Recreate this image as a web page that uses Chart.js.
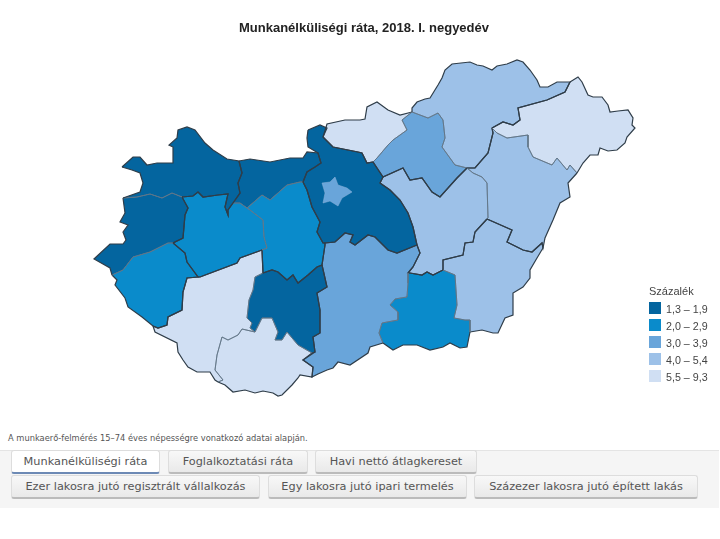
<!DOCTYPE html>
<html lang="hu">
<head>
<meta charset="utf-8">
<title>Munkanélküliségi ráta</title>
<script src="https://cdn.jsdelivr.net/npm/chart.js@4/dist/chart.umd.min.js"></script>
<style>
html, body { margin: 0; padding: 0; width: 720px; height: 539px; overflow: hidden; background: #fff; }
#map { position: absolute; left: 0; top: 0; }
#legend { position: absolute; left: 649px; top: 284px; font: 11px "Liberation Sans", Arial, sans-serif; color: #444; }
#legend .head { height: 18px; line-height: 14px; }
#legend .row { position: relative; height: 17px; line-height: 12px; font-size: 10.7px; }
#legend .box { position: absolute; left: 0; top: 0; width: 12px; height: 12px; }
#legend .txt { position: absolute; left: 17px; top: 1px; white-space: nowrap; }
#note { position: absolute; left: 8px; top: 433px; font: 8.3px "DejaVu Sans", sans-serif; color: #555; white-space: nowrap; }
#panel { position: absolute; left: 0; top: 450px; width: 719px; height: 58px; background: #f5f5f5; border-top: 1px solid #e4e4e4; box-sizing: border-box; }
.tab { position: absolute; box-sizing: border-box; height: 24px; text-align: center; font: 11.3px/22px "DejaVu Sans", sans-serif; color: #555; background: linear-gradient(#f8f8f8, #e9e9e9); border: 1px solid #ddd; border-bottom: 2px solid #bbb; border-radius: 3px; white-space: nowrap; }
.tab.on { background: #fff; border-bottom: 2px solid #6d8ab5; }
</style>
</head>
<body>
<canvas id="map" width="728" height="420"></canvas>
<div id="legend"></div>
<div id="note">A munkaerő-felmérés 15–74 éves népességre vonatkozó adatai alapján.</div>
<div id="panel"></div>
<script>
const chartTitle = 'Munkanélküliségi ráta, 2018. I. negyedév';
const legendTitle = 'Százalék';
const classLabels = ['1,3 – 1,9', '2,0 – 2,9', '3,0 – 3,9', '4,0 – 5,4', '5,5 – 9,3'];
const classColors = ['#04659f', '#0a8bcb', '#69a5da', '#9dc1e8', '#d0dff3'];

// county outlines
const budapest = [[322,183],[330,182],[335,177],[338,185],[347,188],[352,192],[342,198],[338,206],[330,201],[323,203],[325,193]];
const pest = [[308,130],[320,125],[327,128],[323,137],[333,147],[358,152],[362,153],[367,163],[373,162],[383,177],[380,183],[390,190],[400,200],[408,213],[413,227],[417,245],[397,253],[388,250],[375,237],[368,235],[355,245],[350,242],[353,235],[345,233],[335,242],[325,243],[323,243],[317,232],[320,222],[312,207],[307,190],[303,182],[307,172],[315,167],[321,163],[318,153],[308,147],[307,138]];
const gyor = [[122,167],[133,157],[140,157],[147,165],[157,163],[173,163],[173,147],[169,145],[177,138],[178,130],[187,127],[195,130],[205,143],[213,150],[227,159],[239,161],[242,173],[238,183],[240,193],[233,203],[228,210],[228,215],[225,207],[228,194],[218,195],[203,197],[198,192],[193,196],[182,197],[172,193],[162,198],[150,194],[137,197],[123,198],[140,192],[143,183],[140,173],[132,170]];
const komarom = [[239,161],[250,159],[270,162],[290,158],[303,158],[307,152],[318,153],[321,163],[315,167],[307,172],[303,182],[300,182],[287,185],[270,200],[262,195],[247,208],[240,203],[233,203],[240,193],[238,183],[242,173]];
const vas = [[123,198],[137,197],[150,194],[162,198],[172,193],[182,197],[188,208],[185,215],[183,238],[173,243],[168,243],[150,252],[133,257],[123,270],[112,275],[110,268],[94,259],[110,244],[123,244],[126,240],[123,232],[128,225],[120,222],[125,213]];
const zala = [[173,243],[185,253],[187,262],[198,277],[187,278],[183,292],[182,310],[168,317],[167,325],[158,328],[153,326],[142,317],[128,307],[125,298],[115,285],[117,280],[112,275],[123,270],[133,257],[150,252],[168,243]];
const veszprem = [[182,197],[193,196],[198,192],[203,197],[218,195],[228,194],[225,207],[228,215],[228,210],[233,203],[240,203],[247,208],[250,210],[263,220],[264,237],[267,248],[262,250],[240,258],[237,263],[200,277],[198,277],[187,262],[185,253],[173,243],[183,238],[185,215],[188,208]];
const fejer = [[247,208],[262,195],[270,200],[287,185],[300,182],[303,182],[307,190],[312,207],[320,222],[317,232],[323,243],[325,243],[325,245],[322,265],[317,267],[308,275],[298,283],[293,275],[287,280],[278,272],[272,270],[263,273],[262,250],[267,248],[264,237],[263,220],[250,210]];
const tolna = [[322,265],[327,287],[317,293],[320,310],[320,333],[313,337],[315,352],[312,353],[298,345],[287,332],[282,340],[275,340],[278,332],[272,318],[262,318],[255,332],[250,328],[252,323],[247,318],[249,300],[253,290],[255,277],[263,273],[272,270],[278,272],[287,280],[293,275],[298,283],[308,275],[317,267]];
const somogy = [[262,250],[263,273],[255,277],[253,290],[249,300],[247,318],[252,323],[250,328],[255,332],[242,329],[238,335],[228,340],[222,337],[217,355],[215,370],[223,380],[218,382],[215,380],[210,372],[197,372],[188,367],[183,360],[178,352],[177,343],[155,332],[153,326],[158,328],[167,325],[168,317],[182,310],[183,292],[187,278],[198,277],[200,277],[237,263],[240,258]];
const baranya = [[222,337],[228,340],[238,335],[242,329],[255,332],[262,318],[272,318],[278,332],[275,340],[282,340],[287,332],[298,345],[312,353],[303,360],[313,367],[312,377],[300,375],[298,378],[292,385],[282,395],[278,396],[273,393],[263,391],[255,393],[245,390],[233,392],[225,385],[218,382],[223,380],[215,370],[217,355]];
const bacs = [[325,245],[325,243],[335,242],[345,233],[353,235],[350,242],[355,245],[368,235],[375,237],[388,250],[397,253],[417,245],[420,253],[413,267],[408,273],[408,283],[407,297],[395,299],[390,305],[398,312],[398,320],[382,323],[379,333],[383,343],[370,347],[368,353],[350,365],[338,362],[333,368],[327,370],[318,374],[312,377],[313,367],[303,360],[315,352],[313,337],[320,333],[320,310],[317,293],[327,287],[322,265]];
const csongrad = [[408,273],[410,273],[422,275],[427,272],[433,275],[443,270],[455,275],[457,305],[454,318],[465,320],[470,320],[470,332],[467,347],[460,348],[450,343],[443,347],[430,350],[417,345],[403,345],[393,350],[383,343],[379,333],[382,323],[398,320],[398,312],[390,305],[395,299],[407,297],[408,283]];
const bekes = [[487,219],[512,230],[507,242],[523,250],[532,252],[542,243],[543,248],[537,258],[530,270],[530,278],[523,287],[513,293],[513,315],[505,318],[498,333],[493,333],[482,330],[470,332],[470,320],[465,320],[454,318],[457,305],[455,275],[443,270],[443,260],[463,255],[465,243],[473,242],[475,232]];
const szolnok = [[380,183],[383,177],[403,168],[410,180],[422,178],[432,192],[440,197],[457,178],[467,168],[473,173],[482,177],[487,183],[488,218],[487,219],[475,232],[473,242],[465,243],[463,255],[443,260],[443,270],[433,275],[427,272],[422,275],[410,273],[408,273],[413,267],[420,253],[417,245],[413,227],[408,213],[400,200],[390,190]];
const hajdu = [[497,133],[507,138],[528,135],[528,147],[533,157],[552,165],[557,158],[567,170],[570,165],[577,173],[568,183],[570,197],[560,203],[553,220],[545,238],[543,248],[542,243],[532,252],[523,250],[507,242],[512,230],[487,219],[488,218],[487,183],[482,177],[473,173],[467,168],[475,168],[488,153],[493,133],[492,128]];
const szabolcs = [[570,82],[578,77],[582,82],[588,95],[593,97],[602,97],[608,105],[610,112],[618,111],[628,110],[633,118],[632,125],[635,128],[627,137],[625,143],[617,150],[608,151],[600,148],[598,155],[590,155],[583,163],[577,173],[570,165],[567,170],[557,158],[552,165],[533,157],[528,147],[528,135],[507,138],[497,133],[492,128],[503,122],[513,125],[520,120],[518,108],[547,100],[565,92]];
const borsod = [[412,112],[412,108],[417,102],[425,99],[430,98],[438,85],[442,78],[445,70],[452,64],[470,62],[477,65],[483,66],[492,70],[497,66],[507,64],[517,60],[523,62],[530,70],[537,80],[540,87],[548,87],[557,82],[570,82],[565,92],[547,100],[518,108],[520,120],[513,125],[503,122],[492,128],[493,133],[488,153],[475,168],[467,168],[455,165],[442,147],[445,138],[443,120],[438,113],[428,118]];
const heves = [[402,120],[412,112],[428,118],[438,113],[443,120],[445,138],[442,147],[455,165],[467,168],[457,178],[440,197],[432,192],[422,178],[410,180],[403,168],[383,177],[373,162],[377,158],[388,145],[393,140],[407,130]];
const nograd = [[323,137],[327,124],[345,120],[360,120],[365,119],[367,107],[377,102],[388,110],[400,115],[412,112],[402,120],[407,130],[393,140],[388,145],[377,158],[373,162],[367,163],[362,153],[358,152],[333,147]];

// drawn first on top, so Budapest comes before Pest
const countyNames = ['Budapest', 'Pest', 'Győr-Moson-Sopron', 'Komárom-Esztergom', 'Vas', 'Zala', 'Veszprém', 'Fejér', 'Tolna', 'Somogy', 'Baranya', 'Bács-Kiskun', 'Csongrád', 'Békés', 'Jász-Nagykun-Szolnok', 'Hajdú-Bihar', 'Szabolcs-Szatmár-Bereg', 'Borsod-Abaúj-Zemplén', 'Heves', 'Nógrád'];
const countyOutlines = [budapest, pest, gyor, komarom, vas, zala, veszprem, fejer, tolna, somogy, baranya, bacs, csongrad, bekes, szolnok, hajdu, szabolcs, borsod, heves, nograd];
const countyClasses = [2, 0, 0, 0, 0, 1, 1, 1, 0, 4, 4, 2, 1, 3, 3, 3, 4, 3, 2, 4];
const countyRegions = [0, 0, 1, 2, 1, 1, 2, 2, 3, 3, 3, 4, 4, 4, 5, 5, 5, 6, 6, 6];

const tabRows = [
    ['Munkanélküliségi ráta', 'Foglalkoztatási ráta', 'Havi nettó átlagkereset'],
    ['Ezer lakosra jutó regisztrált vállalkozás', 'Egy lakosra jutó ipari termelés', 'Százezer lakosra jutó épített lakás']
];
const tabEdges = [
    [[11, 160], [168, 308], [315, 477]],
    [[11, 260], [268, 467], [474, 698]]
];

// a border between two counties of one region is drawn thin and grey
const edgeKey = (a, b) => [a.join(','), b.join(',')].sort().join('|');
const edgeRegions = {};
countyOutlines.forEach((outline, i) => outline.forEach((p, j) => {
    const key = edgeKey(p, outline[(j + 1) % outline.length]);
    (edgeRegions[key] = edgeRegions[key] || []).push(countyRegions[i]);
}));
const isInnerEdge = (p0, p1) => {
    const found = edgeRegions[edgeKey([p0.parsed.x, p0.parsed.y], [p1.parsed.x, p1.parsed.y])];
    return found && found.length > 1 && found[0] === found[1];
};

const closedPoints = outline => outline.concat([outline[0]]).map(p => ({ x: p[0], y: p[1] }));

// segment styles split a filled line, so fills and borders are separate datasets
const fillSets = countyNames.map((name, i) => ({
    label: name,
    data: closedPoints(countyOutlines[i]),
    showLine: true,
    fill: 'shape',
    tension: 0,
    pointRadius: 0,
    borderWidth: 0,
    backgroundColor: classColors[countyClasses[i]]
}));
const borderSets = countyNames.map((name, i) => ({
    label: name + ' határ',
    data: closedPoints(countyOutlines[i]),
    showLine: true,
    fill: false,
    tension: 0,
    pointRadius: 0,
    borderWidth: i === 0 ? 0.5 : 1.2,
    borderColor: i === 0 ? '#8fb3d8' : '#2f3d49',
    segment: i === 0 ? {} : {
        borderColor: ctx => isInnerEdge(ctx.p0, ctx.p1) ? '#5f7385' : undefined,
        borderWidth: ctx => isInnerEdge(ctx.p0, ctx.p1) ? 0.8 : undefined
    }
}));

new Chart(document.getElementById('map'), {
    type: 'scatter',
    data: { datasets: borderSets.concat(fillSets) },
    options: {
        responsive: false,
        animation: false,
        layout: { padding: 0 },
        scales: {
            x: { type: 'linear', display: false, min: 0, max: 728 },
            y: { type: 'linear', display: false, min: 40, max: 420, reverse: true }
        },
        plugins: {
            legend: { display: false },
            tooltip: { enabled: false },
            title: {
                display: true,
                text: chartTitle,
                color: '#222',
                font: { family: '"Liberation Sans", Arial, sans-serif', size: 13, weight: 'bold', lineHeight: '16px' },
                padding: { top: 20, bottom: 4 }
            }
        }
    }
});

const legend = document.getElementById('legend');
legend.innerHTML = '<div class="head">' + legendTitle + '</div>' + classLabels.map((label, i) =>
    '<div class="row"><span class="box" style="background:' + classColors[i] + '"></span><span class="txt">' + label + '</span></div>'
).join('');

const panel = document.getElementById('panel');
tabRows.forEach((row, r) => row.forEach((label, c) => {
    const tab = document.createElement('div');
    tab.className = 'tab' + (r === 0 && c === 0 ? ' on' : '');
    tab.textContent = label;
    tab.style.left = tabEdges[r][c][0] + 'px';
    tab.style.width = (tabEdges[r][c][1] - tabEdges[r][c][0]) + 'px';
    tab.style.top = (r === 0 ? -1 : 24) + 'px';
    panel.appendChild(tab);
}));
</script>
</body>
</html>
